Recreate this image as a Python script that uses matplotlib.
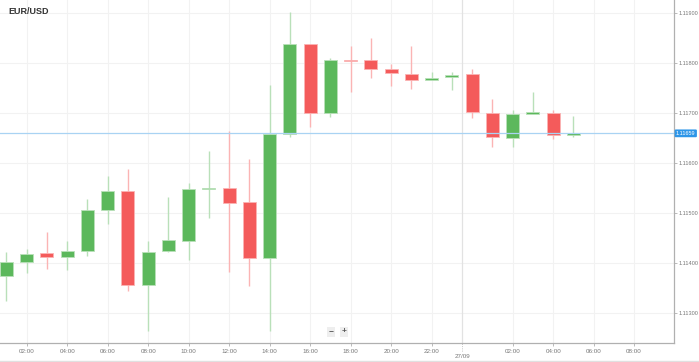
import matplotlib
matplotlib.use("Agg")
import matplotlib.pyplot as plt
from matplotlib.ticker import FixedLocator, FixedFormatter

plt.rcParams["font.family"] = ["Liberation Sans", "DejaVu Sans"]

# ---- data (hourly candles, hour index from 26/09 00:00) ----
hours = list(range(1, 30))
opens = [1.11374, 1.11401, 1.11419, 1.11411, 1.11423, 1.11505, 1.11543, 1.11355, 1.11423, 1.11444,
         1.11548, 1.11549, 1.11521, 1.11409, 1.11657, 1.11837, 1.11699, 1.11806, 1.11805, 1.11788,
         1.11777, 1.11765, 1.11771, 1.11777, 1.11699, 1.11650, 1.11697, 1.11699, 1.11655]
highs = [1.11421, 1.11427, 1.11461, 1.11443, 1.11527, 1.11573, 1.11587, 1.11443, 1.11531, 1.11560,
         1.11623, 1.11663, 1.11607, 1.11755, 1.11901, 1.11837, 1.11809, 1.11833, 1.11850, 1.11797,
         1.11834, 1.11781, 1.11782, 1.11787, 1.11727, 1.11705, 1.11742, 1.11705, 1.11693]
lows = [1.11324, 1.11379, 1.11387, 1.11385, 1.11414, 1.11477, 1.11344, 1.11264, 1.11421, 1.11405,
        1.11490, 1.11382, 1.11354, 1.11265, 1.11651, 1.11671, 1.11692, 1.11742, 1.11770, 1.11753,
        1.11748, 1.11765, 1.11745, 1.11689, 1.11632, 1.11632, 1.11697, 1.11647, 1.11651]
closes = [1.11401, 1.11417, 1.11411, 1.11424, 1.11506, 1.11543, 1.11355, 1.11421, 1.11445, 1.11547,
          1.11549, 1.11519, 1.11409, 1.11657, 1.11837, 1.11700, 1.11806, 1.11803, 1.11787, 1.11779,
          1.11766, 1.11770, 1.11776, 1.11701, 1.11651, 1.11697, 1.11701, 1.11655, 1.11659]

last_price = 1.11659
y_ticks = [1.11300, 1.11400, 1.11500, 1.11600, 1.11700, 1.11800, 1.11900]
x_tick_hours = [2, 4, 6, 8, 10, 12, 14, 16, 18, 20, 22, 26, 28, 30, 32]
x_tick_labels = ["02:00", "04:00", "06:00", "08:00", "10:00", "12:00", "14:00", "16:00",
                 "18:00", "20:00", "22:00", "02:00", "04:00", "06:00", "08:00"]
date_hour = 23.5
date_label = "27/09"
title = "EUR/USD"

GREEN = "#5cb85c"
RED = "#f45b5b"
GREEN_W = "#b9e0b9"
RED_W = "#fbb4b4"

W, H = 699, 362
fig = plt.figure(figsize=(W / 100, H / 100), dpi=100)
fig.patch.set_facecolor("white")
ax = fig.add_axes([0, (H - 343) / H, 674 / W, 343 / H])
ax.set_facecolor("white")

ax.set_xlim(0.681, 33.97)
ax.set_ylim(1.112401, 1.119254)

# grid
for yt in y_ticks:
    ax.axhline(yt, color="#f2f2f2", lw=0.8, zorder=0)
for xt in x_tick_hours:
    ax.axvline(xt, color="#f2f2f2", lw=0.8, zorder=0)
ax.axvline(date_hour, color="#e2e2e2", lw=0.9, zorder=0)

# candles
bw = 0.64
min_h = 0.00003
for h, o, hi, lo, c in zip(hours, opens, highs, lows, closes):
    up = c >= o
    col = GREEN if up else RED
    wcol = GREEN_W if up else RED_W
    ax.vlines(h, lo, hi, color=wcol, lw=1.0, zorder=1)
    bottom = min(o, c)
    height = max(abs(c - o), min_h)
    if abs(c - o) < min_h:
        bottom = (o + c) / 2 - min_h / 2
    ax.bar(h, height, bottom=bottom, width=bw, color=col, edgecolor=wcol,
           linewidth=0.6, zorder=2)

# current price line
ax.axhline(last_price, color="#a9d3f3", lw=0.9, zorder=3)
ax.text(1.003, last_price, f"{last_price:.5f}", transform=ax.get_yaxis_transform(),
        ha="left", va="center", fontsize=4.0, color="white", zorder=10, clip_on=False,
        bbox=dict(boxstyle="round,pad=0.25,rounding_size=0.2", fc="#2e96e8", ec="none"))

# spines
for s in ["top", "left"]:
    ax.spines[s].set_visible(False)
ax.spines["right"].set_color("#b0b0b0")
ax.spines["bottom"].set_color("#b0b0b0")
ax.spines["right"].set_linewidth(0.9)
ax.spines["bottom"].set_linewidth(0.9)

# y axis on right
ax.yaxis.tick_right()
ax.yaxis.set_major_locator(FixedLocator(y_ticks))
ax.yaxis.set_major_formatter(FixedFormatter([f"{v:.5f}" for v in y_ticks]))
ax.tick_params(axis="y", length=2, width=0.6, color="#b0b0b0", labelsize=4.0,
               labelcolor="#777777", pad=1)

# x axis
ax.xaxis.set_major_locator(FixedLocator(x_tick_hours))
ax.xaxis.set_major_formatter(FixedFormatter(x_tick_labels))
ax.tick_params(axis="x", length=2.5, width=0.6, color="#b0b0b0", labelsize=4.5,
               labelcolor="#777777", pad=2)
ax.text(date_hour, -0.04, date_label, transform=ax.get_xaxis_transform(),
        ha="center", va="center", fontsize=4.5, color="#777777", clip_on=False)
ax.vlines(date_hour, -0.022, 0, transform=ax.get_xaxis_transform(),
          color="#b0b0b0", lw=0.6, linestyles=":", clip_on=False)

# title
fig.text(8 / W, 1 - 11 / H, title, fontsize=6.5, fontweight="bold", color="#333333",
         ha="left", va="center")

# zoom controls
for xc, sym in [(331, "\u2212"), (344, "+")]:
    fig.text(xc / W, 1 - 332 / H, sym, fontsize=6, fontweight="bold", color="#555555",
             ha="center", va="center",
             bbox=dict(boxstyle="square,pad=0.2", fc="#eeeeee", ec="none"))

# bottom border of widget
fig.add_artist(plt.Line2D([0, 1], [1.5 / H, 1.5 / H], transform=fig.transFigure,
                          color="#e0e0e0", lw=1))

fig.savefig("out.png", dpi=100, facecolor="white")
